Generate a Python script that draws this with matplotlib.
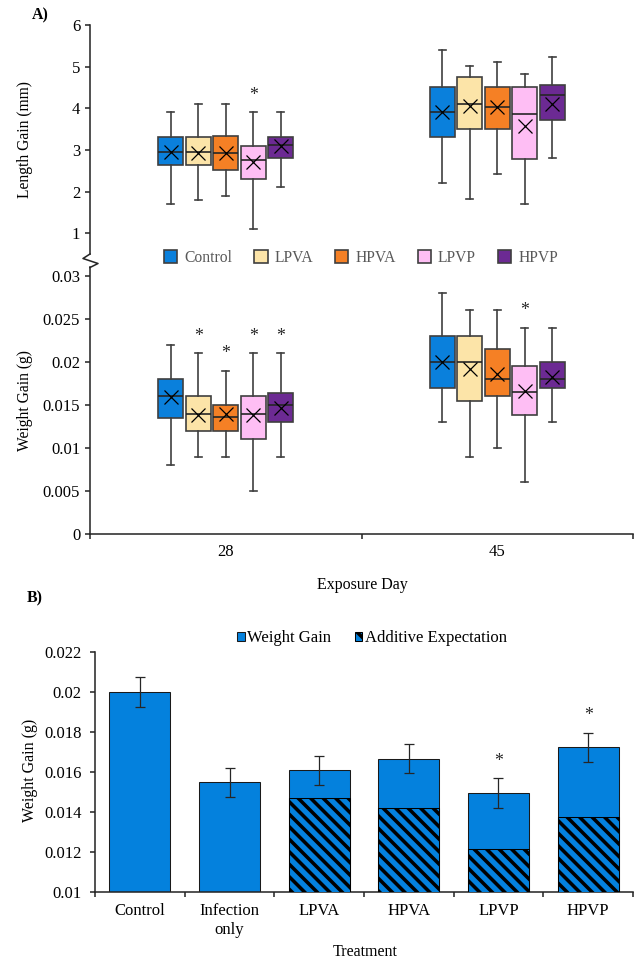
import matplotlib
matplotlib.use('Agg')
import matplotlib.pyplot as plt
from matplotlib.patches import Patch
from matplotlib.lines import Line2D
import numpy as np

plt.rcParams['font.family'] = ['Liberation Serif', 'DejaVu Serif']
plt.rcParams['hatch.linewidth'] = 1.7

# ---- data ----
groups = ['Control', 'LPVA', 'HPVA', 'LPVP', 'HPVP']
days = ['28', '45']
colors = ['#0A80DC', '#FCE4A8', '#F58025', '#FEBEF4', '#6C2A93']

# length gain (mm), day 28
len28_lo = [1.7, 1.8, 1.9, 1.1, 2.1]
len28_q1 = [2.63, 2.63, 2.51, 2.30, 2.81]
len28_med = [2.95, 2.95, 2.92, 2.76, 3.12]
len28_q3 = [3.30, 3.30, 3.34, 3.10, 3.31]
len28_hi = [3.9, 4.1, 4.1, 3.9, 3.9]
len28_mean = [2.95, 2.92, 2.93, 2.70, 3.10]
len28_sig = [0, 0, 0, 1, 0]

# length gain (mm), day 45
len45_lo = [2.21, 1.81, 2.42, 1.71, 2.81]
len45_q1 = [3.31, 3.51, 3.51, 2.78, 3.72]
len45_med = [3.90, 4.11, 4.02, 3.86, 4.32]
len45_q3 = [4.50, 4.75, 4.50, 4.50, 4.56]
len45_hi = [5.41, 5.01, 5.11, 4.82, 5.22]
len45_mean = [3.91, 4.06, 4.04, 3.58, 4.10]
len45_sig = [0, 0, 0, 0, 0]

# weight gain (g), day 28
wt28_lo = [0.008, 0.009, 0.009, 0.005, 0.009]
wt28_q1 = [0.0135, 0.012, 0.012, 0.011, 0.013]
wt28_med = [0.016, 0.014, 0.0136, 0.014, 0.015]
wt28_q3 = [0.018, 0.016, 0.015, 0.016, 0.0164]
wt28_hi = [0.022, 0.021, 0.019, 0.021, 0.021]
wt28_mean = [0.0159, 0.0138, 0.0139, 0.0138, 0.0146]
wt28_sig = [0, 1, 1, 1, 1]

# weight gain (g), day 45
wt45_lo = [0.013, 0.009, 0.010, 0.006, 0.013]
wt45_q1 = [0.017, 0.0155, 0.016, 0.0138, 0.017]
wt45_med = [0.020, 0.020, 0.018, 0.0165, 0.018]
wt45_q3 = [0.023, 0.023, 0.0215, 0.0195, 0.020]
wt45_hi = [0.028, 0.026, 0.026, 0.024, 0.024]
wt45_mean = [0.020, 0.0192, 0.0186, 0.0166, 0.0183]
wt45_sig = [0, 0, 0, 1, 0]

# panel B
treatments = ['Control', 'Infection\nonly', 'LPVA', 'HPVA', 'LPVP', 'HPVP']
weight_gain = [0.0200, 0.01548, 0.01607, 0.01665, 0.01493, 0.01722]
weight_err = [0.00075, 0.00073, 0.00074, 0.00073, 0.00075, 0.00074]
additive = [np.nan, np.nan, 0.01467, 0.0142, 0.01213, 0.01375]
bar_sig = [0, 0, 0, 0, 1, 1]

# ---- figure ----
W, H, DPI = 638, 960, 150
fig = plt.figure(figsize=(W / DPI, H / DPI), dpi=DPI)


def fx(px):
    return px / W


def fy(py):
    return 1 - py / H


ax_len = fig.add_axes([fx(90), fy(254), fx(633) - fx(90), fy(25) - fy(254)])
ax_wt = fig.add_axes([fx(90), fy(534), fx(633) - fx(90), fy(267.4) - fy(534)])
ax_bar = fig.add_axes([fx(95), fy(891.7), fx(633) - fx(95), fy(651.7) - fy(891.7)])

edge = '#3F3F3F'
step = 0.1013
bw = 0.092
cw = 0.026


def draw_boxes(ax, d, lo, q1, med, q3, hi, mean, sig):
    for i in range(len(groups)):
        pos = d + 0.5 + (i - 2) * step
        st = dict(whislo=lo[i], q1=q1[i], med=med[i], q3=q3[i],
                  whishi=hi[i], mean=mean[i], fliers=[])
        ax.bxp([st], positions=[pos], widths=bw, capwidths=[cw],
               patch_artist=True, showmeans=True, manage_ticks=False,
               boxprops=dict(facecolor=colors[i], edgecolor=edge, linewidth=0.8),
               medianprops=dict(color='#262626', linewidth=0.8),
               whiskerprops=dict(color=edge, linewidth=0.8),
               capprops=dict(color=edge, linewidth=0.8),
               meanprops=dict(marker='x', markersize=6.5, markeredgecolor='black',
                              markeredgewidth=0.6))
        if sig[i]:
            ax.annotate('*', (pos, hi[i]), xytext=(0, 4), textcoords='offset points',
                        ha='center', va='bottom', fontsize=8.5, color='#262626')


draw_boxes(ax_len, 0, len28_lo, len28_q1, len28_med, len28_q3, len28_hi, len28_mean, len28_sig)
draw_boxes(ax_len, 1, len45_lo, len45_q1, len45_med, len45_q3, len45_hi, len45_mean, len45_sig)
draw_boxes(ax_wt, 0, wt28_lo, wt28_q1, wt28_med, wt28_q3, wt28_hi, wt28_mean, wt28_sig)
draw_boxes(ax_wt, 1, wt45_lo, wt45_q1, wt45_med, wt45_q3, wt45_hi, wt45_mean, wt45_sig)

# length axis
ax_len.set_xlim(0, 2)
ax_len.set_ylim(0.5, 6)
ax_len.set_yticks([1, 2, 3, 4, 5, 6])
for s in ['top', 'right', 'bottom']:
    ax_len.spines[s].set_visible(False)
ax_len.spines['left'].set_linewidth(0.75)
ax_len.spines['left'].set_color('#262626')
ax_len.set_xticks([])
ax_len.tick_params(axis='y', length=2.2, width=0.75, pad=2.5, labelsize=8, color='#262626')

# weight axis
ax_wt.set_xlim(0, 2)
ax_wt.set_ylim(0, 0.031)
ax_wt.set_yticks([0, 0.005, 0.01, 0.015, 0.02, 0.025, 0.03])
ax_wt.set_yticklabels(['0', '0.005', '0.01', '0.015', '0.02', '0.025', '0.03'])
for s in ['top', 'right']:
    ax_wt.spines[s].set_visible(False)
for s in ['left', 'bottom']:
    ax_wt.spines[s].set_linewidth(0.75)
    ax_wt.spines[s].set_color('#262626')
ax_wt.set_xticks([0, 1, 2])
ax_wt.set_xticklabels([])
ax_wt.set_xticks([0.5, 1.5], minor=True)
ax_wt.set_xticklabels(days, minor=True)
ax_wt.tick_params(axis='x', which='major', length=2.4, width=0.75, color='#262626')
ax_wt.tick_params(axis='x', which='minor', length=0, pad=5, labelsize=8)
ax_wt.tick_params(axis='y', length=2.2, width=0.75, pad=2.5, labelsize=8, color='#262626')

# axis break zigzag
zz_x = [90, 83, 98, 90]
zz_y = [254, 258.5, 263.5, 267.5]
fig.add_artist(Line2D([fx(v) for v in zz_x], [fy(v) for v in zz_y],
                      transform=fig.transFigure, color='#262626', linewidth=0.75))

# legend for panel A
handles = [Patch(facecolor=c, edgecolor=edge, linewidth=0.8) for c in colors]
fig.legend(handles, groups, loc='center', bbox_to_anchor=(fx(361), fy(258)),
           ncol=5, frameon=False, fontsize=7.5, handlelength=0.85, handleheight=0.85,
           handletextpad=0.45, columnspacing=1.4, labelcolor='#595959')

fig.text(fx(25), fy(140), 'Length Gain (mm)', rotation=90, ha='center', va='center', fontsize=7.5)
fig.text(fx(25), fy(401), 'Weight Gain (g)', rotation=90, ha='center', va='center', fontsize=7.5)
fig.text(fx(362), fy(585), 'Exposure Day', ha='center', va='center', fontsize=7.7)
fig.text(fx(40), fy(15), 'A)', ha='center', va='center', fontsize=7.6, fontweight='bold')

# ---- panel B ----
blue = '#0481DD'
x = np.arange(len(treatments)) + 0.5
ax_bar.bar(x, weight_gain, width=0.68, color=blue, edgecolor='#1A1A1A', linewidth=0.5,
           label='Weight Gain', zorder=2)
ax_bar.bar(x, additive, width=0.68, color=blue, edgecolor='black', linewidth=0.5,
           hatch='\\\\\\\\', label='Additive Expectation', zorder=3)
ax_bar.errorbar(x, weight_gain, yerr=weight_err, fmt='none', ecolor='#262626',
                elinewidth=0.6, capsize=2.6, capthick=0.6, zorder=4)
for xi, v, e, s in zip(x, weight_gain, weight_err, bar_sig):
    if s:
        ax_bar.annotate('*', (xi, v + e), xytext=(0, 4), textcoords='offset points',
                        ha='center', va='bottom', fontsize=8.5, color='#262626')

ax_bar.set_xlim(0, len(treatments))
ax_bar.set_ylim(0.01, 0.022)
ax_bar.set_yticks([0.01, 0.012, 0.014, 0.016, 0.018, 0.02, 0.022])
ax_bar.set_yticklabels(['0.01', '0.012', '0.014', '0.016', '0.018', '0.02', '0.022'])
for s in ['top', 'right']:
    ax_bar.spines[s].set_visible(False)
for s in ['left', 'bottom']:
    ax_bar.spines[s].set_linewidth(0.75)
    ax_bar.spines[s].set_color('#262626')
ax_bar.set_xticks(np.arange(len(treatments) + 1))
ax_bar.set_xticklabels([])
ax_bar.set_xticks(x, minor=True)
ax_bar.set_xticklabels(treatments, minor=True, linespacing=1.25)
ax_bar.tick_params(axis='x', which='major', length=2.4, width=0.75, color='#262626')
ax_bar.tick_params(axis='x', which='minor', length=0, pad=5.5, labelsize=8)
ax_bar.tick_params(axis='y', length=2.4, width=0.75, pad=4, labelsize=8, color='#262626')

ax_bar.legend(loc='center', bbox_to_anchor=(fx(372), fy(638)), bbox_transform=fig.transFigure,
              ncol=2, frameon=False, fontsize=8, handlelength=0.45, handleheight=0.45,
              handletextpad=0.15, columnspacing=1.4)

fig.text(fx(30), fy(770), 'Weight Gain (g)', rotation=90, ha='center', va='center', fontsize=7.7)
fig.text(fx(365), fy(952), 'Treatment', ha='center', va='center', fontsize=7.7)
fig.text(fx(35), fy(598), 'B)', ha='center', va='center', fontsize=7.6, fontweight='bold')

fig.savefig('out.png', dpi=DPI)
